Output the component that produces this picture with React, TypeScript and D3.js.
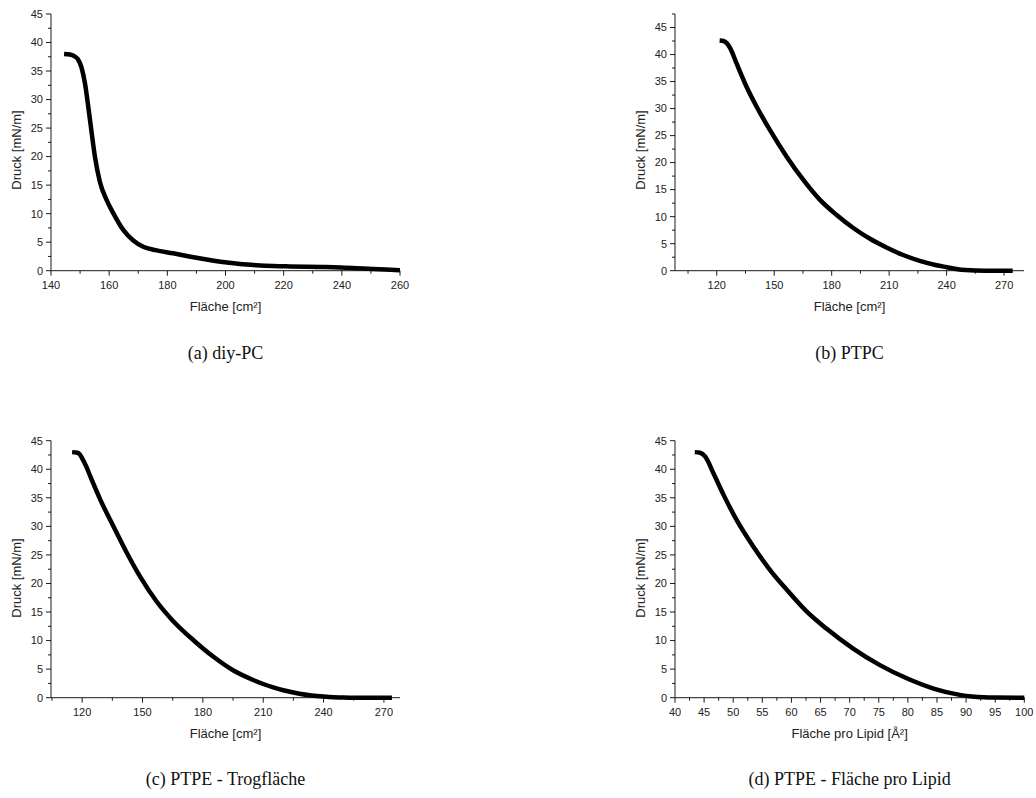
import React from "react";
import * as d3 from "d3";

// Panel (a) diy-PC
const aArea = [144.5, 146.5, 148, 149.2, 150.5, 151.7, 152.8, 154, 155.1, 156.8, 159.1, 161.4, 164.9, 168.3, 171.7, 176, 182, 188, 193.5, 199, 205, 210.5, 216.4, 222, 228, 234, 239.4, 245, 250.8, 255, 260];
const aPress = [38.0, 37.9, 37.6, 37.1, 35.6, 32.8, 28.8, 24.1, 20.0, 15.6, 12.4, 10.1, 7.1, 5.3, 4.2, 3.6, 3.05, 2.45, 1.95, 1.52, 1.17, 0.97, 0.82, 0.75, 0.7, 0.65, 0.58, 0.45, 0.3, 0.2, 0.1];
// Panel (b) PTPC
const bArea = [121.5, 123.5, 125.5, 127, 130.4, 135.6, 140.9, 147.8, 156.5, 165.2, 173.9, 182.6, 191.3, 200, 208.6, 217.3, 226, 234.7, 240, 245, 250, 255, 260, 266, 274.5];
const bPress = [42.6, 42.5, 42.0, 41.2, 38.3, 34.0, 30.3, 26.0, 21.1, 16.8, 13.1, 10.3, 7.9, 5.9, 4.3, 2.9, 1.8, 1.0, 0.65, 0.33, 0.12, 0.03, 0.0, 0.0, 0.0];
// Panel (c) PTPE - Trogfläche
const cArea = [115, 117.5, 118.8, 120, 122, 124.1, 129.1, 135.7, 142.3, 148.8, 157.1, 165.3, 175.2, 185.1, 195, 205, 210, 215, 220, 228, 234, 240, 245, 250, 260, 274];
const cPress = [43.0, 42.9, 42.6, 41.9, 40.5, 38.7, 34.6, 29.9, 25.3, 21.2, 16.8, 13.4, 10.1, 7.2, 4.8, 3.1, 2.4, 1.8, 1.3, 0.7, 0.4, 0.2, 0.08, 0.02, 0, 0];
// Panel (d) PTPE - Fläche pro Lipid
const dArea = [43.4, 44.3, 45.2, 46.6, 48.3, 50.6, 53.5, 56.3, 59.2, 62.6, 66, 70.6, 75.2, 79.8, 84.4, 88.9, 91, 93, 95, 100];
const dPress = [43.0, 42.9, 42.2, 39.3, 35.6, 31.1, 26.4, 22.4, 18.9, 15.1, 12.1, 8.6, 5.7, 3.4, 1.6, 0.5, 0.2, 0.06, 0.02, 0];

const aXTicks = [140, 160, 180, 200, 220, 240, 260];
const bXTicks = [120, 150, 180, 210, 240, 270];
const cXTicks = [120, 150, 180, 210, 240, 270];
const dXTicks = [40, 45, 50, 55, 60, 65, 70, 75, 80, 85, 90, 95, 100];
const yTicks = [0, 5, 10, 15, 20, 25, 30, 35, 40, 45];

const yTitle = "Druck [mN/m]";
const xTitleCm = "Fläche [cm²]";
const xTitleLipid = "Fläche pro Lipid [Å²]";
const captions = ["(a) diy-PC", "(b) PTPC", "(c) PTPE - Trogfläche", "(d) PTPE - Fläche pro Lipid"];

const SANS = "'Liberation Sans', Arial, sans-serif";
const SERIF = "'Liberation Serif', 'DejaVu Serif', serif";
const AX = "#1a1a1a";

type PanelProps = {
  xs: number[]; ys: number[];
  xDomain: [number, number]; yDomain: [number, number];
  left: number; right: number; top: number; bottom: number;
  xTicks: number[]; xMinorStep: number; xTitle: string;
  yTitleX: number; yTitleY: number; caption: string; captionY: number;
};

function Panel(p: PanelProps) {
  const x = d3.scaleLinear().domain(p.xDomain).range([p.left, p.right]);
  const y = d3.scaleLinear().domain(p.yDomain).range([p.bottom, p.top]);
  const line = d3.line<number>().x((_, i) => x(p.xs[i])).y((v) => y(v)).curve(d3.curveMonotoneX);
  const xMinor: number[] = [];
  for (let v = Math.ceil(p.xDomain[0] / p.xMinorStep) * p.xMinorStep; v <= p.xDomain[1] + 1e-6; v += p.xMinorStep) {
    if (!p.xTicks.some((t) => Math.abs(t - v) < 1e-6)) xMinor.push(v);
  }
  const yMinor: number[] = [];
  for (let v = 2.5; v <= p.yDomain[1] + 1e-6; v += 5) yMinor.push(v);
  const cx = (p.left + p.right) / 2;
  return (
    <g>
      <line x1={p.left} x2={p.right} y1={p.bottom} y2={p.bottom} stroke={AX} strokeWidth={1} />
      <line x1={p.left} x2={p.left} y1={p.top} y2={p.bottom} stroke={AX} strokeWidth={1} />
      {p.xTicks.map((t) => (
        <g key={"xt" + t}>
          <line x1={x(t)} x2={x(t)} y1={p.bottom} y2={p.bottom + 5} stroke={AX} />
          <text x={x(t)} y={p.bottom + 14} dy="0.35em" textAnchor="middle" fontSize={11} fontFamily={SANS} fill="#222">{t}</text>
        </g>
      ))}
      {xMinor.map((t) => (
        <line key={"xm" + t} x1={x(t)} x2={x(t)} y1={p.bottom} y2={p.bottom + 3} stroke={AX} />
      ))}
      {yTicks.map((t) => (
        <g key={"yt" + t}>
          <line x1={p.left - 5} x2={p.left} y1={y(t)} y2={y(t)} stroke={AX} />
          <text x={p.left - 8} y={y(t)} dy="0.35em" textAnchor="end" fontSize={11} fontFamily={SANS} fill="#222">{t}</text>
        </g>
      ))}
      {yMinor.map((t) => (
        <line key={"ym" + t} x1={p.left - 3} x2={p.left} y1={y(t)} y2={y(t)} stroke={AX} />
      ))}
      <path d={line(p.ys) || ""} fill="none" stroke="#000" strokeWidth={4.5} strokeLinejoin="round" />
      <text x={cx} y={p.bottom + 36} dy="0.35em" textAnchor="middle" fontSize={13} fontFamily={SANS} fill="#222">{p.xTitle}</text>
      <text transform={`translate(${p.yTitleX},${p.yTitleY}) rotate(-90)`} dy="0.35em" textAnchor="middle" fontSize={13} fontFamily={SANS} fill="#222">{yTitle}</text>
      <text x={cx} y={p.captionY} dy="0.35em" textAnchor="middle" fontSize={18} fontFamily={SERIF} fill="#111">{p.caption}</text>
    </g>
  );
}

export default function App() {
  return (
    <svg width={1036} height={798} style={{ position: "absolute", left: 0, top: 0, background: "#fff" }}>
      <Panel xs={aArea} ys={aPress} xDomain={[140, 260]} yDomain={[0, 45]} left={51} right={400} top={14} bottom={270.7}
        xTicks={aXTicks} xMinorStep={10} xTitle={xTitleCm} yTitleX={16} yTitleY={150} caption={captions[0]} captionY={353} />
      <Panel xs={bArea} ys={bPress} xDomain={[98.2, 280.4]} yDomain={[0, 47.5]} left={675} right={1024} top={14} bottom={270.7}
        xTicks={bXTicks} xMinorStep={15} xTitle={xTitleCm} yTitleX={640} yTitleY={150} caption={captions[1]} captionY={353} />
      <Panel xs={cArea} ys={cPress} xDomain={[104.5, 278]} yDomain={[0, 45]} left={51} right={400} top={440.7} bottom={697.7}
        xTicks={cXTicks} xMinorStep={15} xTitle={xTitleCm} yTitleX={16} yTitleY={578} caption={captions[2]} captionY={779} />
      <Panel xs={dArea} ys={dPress} xDomain={[40, 100]} yDomain={[0, 45]} left={675} right={1024.3} top={440.7} bottom={697.7}
        xTicks={dXTicks} xMinorStep={2.5} xTitle={xTitleLipid} yTitleX={640} yTitleY={578} caption={captions[3]} captionY={779} />
    </svg>
  );
}
